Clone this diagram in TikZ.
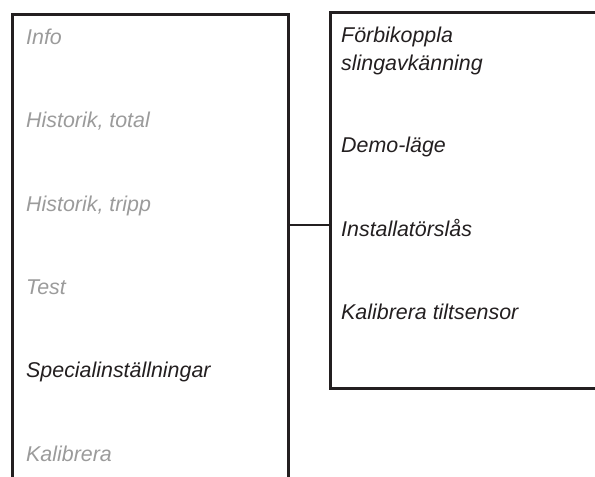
\documentclass[tikz,border=0pt]{standalone}
\usepackage{fontspec}
\setmainfont{Liberation Sans}
\definecolor{ink}{HTML}{231F20}
\definecolor{dim}{HTML}{9B9B9B}
\begin{document}
\begin{tikzpicture}[x=1pt,y=1pt,
  frame/.style={draw=ink, line width=2.6pt, rectangle, inner sep=0pt, anchor=north west},
  item/.style={anchor=base west, inner sep=0pt, font=\fontsize{21.4}{28}\selectfont\itshape},
  off/.style={item, text=dim},
  on/.style={item, text=ink}]
  \useasboundingbox (0,0) rectangle (595,477);
  \clip (0,0) rectangle (595,477);
  % menu column and submenu panel
  \node[frame, minimum width=276pt, minimum height=490pt] (menu) at (11,464) {};
  \node[frame, minimum width=300pt, minimum height=376pt] (sub) at (329,466) {};
  \draw[ink, line width=2.6pt] (menu.north east |- 0,252) -- (sub.north west |- 0,252);
  % main menu entries
  \node[off] (info) at (26,432) {Info};
  \node[off] (histot) at (26,349) {Historik, total};
  \node[off] (histrip) at (26,265) {Historik, tripp};
  \node[off] (test) at (26,182) {Test};
  \node[on] (special) at (26,99) {Specialinställningar};
  \node[off] (kal) at (26,15) {Kalibrera};
  % submenu entries
  \node[on, align=left, anchor=north west] (bypass) at (341,450) {Förbikoppla\\slingavkänning};
  \node[on] (demo) at (341,324) {Demo-läge};
  \node[on] (lock) at (341,240) {Installatörslås};
  \node[on] (tilt) at (341,157) {Kalibrera tiltsensor};
\end{tikzpicture}
\end{document}
